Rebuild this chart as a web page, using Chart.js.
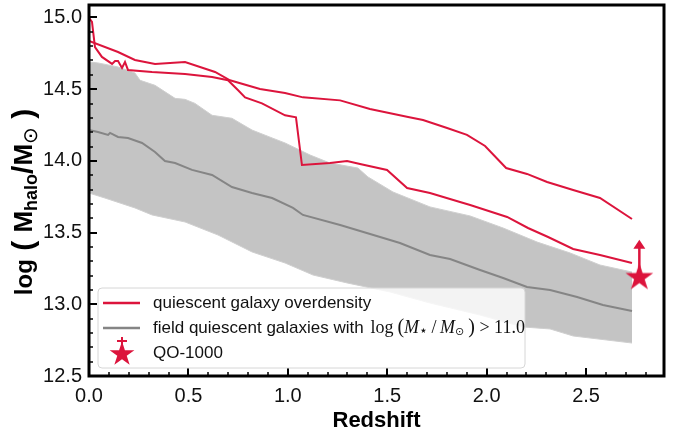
<!DOCTYPE html>
<html>
<head>
<meta charset="utf-8">
<script src="https://cdn.jsdelivr.net/npm/chart.js@4.4.0/dist/chart.umd.min.js"></script>
<style>
  html, body { margin: 0; padding: 0; background: #fff; }
</style>
</head>
<body>
<canvas id="myChart" width="685" height="434"></canvas>
<script>
// upper red track (overdensity)
const overUpX = [0.000, 0.146, 0.231, 0.332, 0.483, 0.634, 0.709, 0.860, 0.986, 1.076, 1.263, 1.413, 1.605, 1.680, 1.801, 1.901, 1.992, 2.098, 2.203, 2.304, 2.435, 2.570, 2.731];
const overUpY = [14.836, 14.759, 14.704, 14.676, 14.690, 14.620, 14.562, 14.501, 14.473, 14.443, 14.422, 14.362, 14.306, 14.285, 14.229, 14.181, 14.104, 13.950, 13.909, 13.853, 13.797, 13.741, 13.595];

// lower red track (overdensity)
const overLoX = [0.000, 0.015, 0.030, 0.065, 0.116, 0.131, 0.146, 0.166, 0.181, 0.196, 0.317, 0.483, 0.619, 0.699, 0.750, 0.785, 0.870, 0.986, 1.041, 1.071, 1.212, 1.298, 1.363, 1.499, 1.600, 1.715, 1.866, 1.917, 2.103, 2.208, 2.309, 2.435, 2.570, 2.731];
const overLoY = [14.997, 14.970, 14.794, 14.725, 14.676, 14.697, 14.697, 14.648, 14.690, 14.634, 14.620, 14.606, 14.585, 14.562, 14.492, 14.443, 14.401, 14.318, 14.304, 13.971, 13.985, 13.999, 13.978, 13.937, 13.811, 13.776, 13.713, 13.692, 13.609, 13.532, 13.469, 13.386, 13.344, 13.288];

// field quiescent galaxies: median
const fieldX = [0.000, 0.045, 0.096, 0.106, 0.146, 0.196, 0.267, 0.332, 0.382, 0.433, 0.518, 0.619, 0.719, 0.820, 0.921, 1.026, 1.076, 1.263, 1.464, 1.564, 1.715, 1.816, 1.967, 2.083, 2.203, 2.319, 2.455, 2.585, 2.731];
const fieldY = [14.215, 14.202, 14.181, 14.195, 14.167, 14.160, 14.125, 14.062, 13.999, 13.985, 13.937, 13.902, 13.818, 13.776, 13.741, 13.672, 13.623, 13.553, 13.469, 13.427, 13.344, 13.316, 13.239, 13.183, 13.121, 13.100, 13.051, 12.995, 12.953];

// field band, upper edge
const bandHiX = [0.000, 0.045, 0.146, 0.231, 0.257, 0.332, 0.433, 0.483, 0.533, 0.619, 0.719, 0.820, 0.921, 0.986, 1.112, 1.212, 1.353, 1.403, 1.529, 1.715, 1.917, 2.083, 2.254, 2.420, 2.570, 2.731];
const bandHiY = [14.690, 14.683, 14.655, 14.613, 14.562, 14.527, 14.436, 14.429, 14.401, 14.318, 14.297, 14.215, 14.160, 14.125, 14.041, 13.985, 13.950, 13.888, 13.783, 13.679, 13.616, 13.532, 13.434, 13.358, 13.274, 13.225];

// field band, lower edge
const bandLoX = [0.000, 0.080, 0.231, 0.317, 0.483, 0.649, 0.820, 0.986, 1.127, 1.298, 1.514, 1.715, 1.967, 2.183, 2.319, 2.435, 2.731];
const bandLoY = [13.776, 13.741, 13.672, 13.623, 13.574, 13.483, 13.365, 13.288, 13.204, 13.149, 13.086, 13.009, 12.925, 12.842, 12.828, 12.779, 12.730];

// QO-1000 lower limit
const starX = [2.768];
const starY = [13.197];
const arrowTopY = [13.45];

const xTicks = [0.0, 0.5, 1.0, 1.5, 2.0, 2.5];
const xMinor = [0.1, 0.2, 0.3, 0.4, 0.6, 0.7, 0.8, 0.9, 1.1, 1.2, 1.3, 1.4, 1.6, 1.7, 1.8, 1.9, 2.1, 2.2, 2.3, 2.4, 2.6, 2.7, 2.8];
const yTicks = [12.5, 13.0, 13.5, 14.0, 14.5, 15.0];
const yMinor = [12.6, 12.7, 12.8, 12.9, 13.1, 13.2, 13.3, 13.4, 13.6, 13.7, 13.8, 13.9, 14.1, 14.2, 14.3, 14.4, 14.6, 14.7, 14.8, 14.9];

const RED = 'crimson';
const GREY = '#858585';
const BAND = '#c4c4c4';

function pts(xs, ys) {
    return xs.map((x, i) => ({ x: x, y: ys[i] }));
}

function makeStar(R, color) {
    const c = document.createElement('canvas');
    const s = Math.ceil(R * 2 + 2);
    c.width = s; c.height = s;
    const g = c.getContext('2d');
    const r = R * 0.381966;
    g.beginPath();
    for (let i = 0; i < 10; i++) {
        const rad = i % 2 === 0 ? R : r;
        const a = -Math.PI / 2 + i * Math.PI / 5;
        const px = s / 2 + rad * Math.cos(a);
        const py = s / 2 + rad * Math.sin(a) + R * 0.1;
        if (i === 0) g.moveTo(px, py); else g.lineTo(px, py);
    }
    g.closePath();
    g.fillStyle = color;
    g.fill();
    return c;
}
const starImg = makeStar(14.5, RED);

// frame, inward ticks, arrow, legend and y title
const decor = {
    id: 'decor',
    afterDatasetsDraw(chart) {
        const ctx = chart.ctx;
        const xs = chart.scales.x, ys = chart.scales.y;
        // arrow for lower limit
        const ax = xs.getPixelForValue(starX[0]);
        const ay0 = ys.getPixelForValue(starY[0]);
        const ay1 = ys.getPixelForValue(arrowTopY[0]);
        ctx.save();
        ctx.strokeStyle = RED;
        ctx.fillStyle = RED;
        ctx.lineWidth = 2.5;
        ctx.beginPath();
        ctx.moveTo(ax, ay0);
        ctx.lineTo(ax, ay1 + 7);
        ctx.stroke();
        ctx.beginPath();
        ctx.moveTo(ax, ay1);
        ctx.lineTo(ax - 6, ay1 + 9);
        ctx.lineTo(ax + 6, ay1 + 9);
        ctx.closePath();
        ctx.fill();
        ctx.restore();
    },
    afterDraw(chart) {
        const ctx = chart.ctx;
        const a = chart.chartArea;
        const xs = chart.scales.x, ys = chart.scales.y;
        ctx.save();
        ctx.strokeStyle = '#000';
        // ticks
        ctx.lineWidth = 2;
        xTicks.forEach(v => {
            const p = Math.round(xs.getPixelForValue(v));
            ctx.beginPath(); ctx.moveTo(p, a.bottom); ctx.lineTo(p, a.bottom - 8); ctx.stroke();
        });
        yTicks.forEach(v => {
            const p = Math.round(ys.getPixelForValue(v));
            ctx.beginPath(); ctx.moveTo(a.left, p); ctx.lineTo(a.left + 8, p); ctx.stroke();
        });
        ctx.lineWidth = 1.5;
        xMinor.forEach(v => {
            const p = Math.round(xs.getPixelForValue(v));
            ctx.beginPath(); ctx.moveTo(p, a.bottom); ctx.lineTo(p, a.bottom - 4); ctx.stroke();
        });
        yMinor.forEach(v => {
            const p = Math.round(ys.getPixelForValue(v));
            ctx.beginPath(); ctx.moveTo(a.left, p); ctx.lineTo(a.left + 4, p); ctx.stroke();
        });
        // frame
        ctx.lineWidth = 3;
        ctx.strokeRect(a.left, a.top, a.right - a.left, a.bottom - a.top);
        ctx.restore();

        // legend
        const lx = a.left + 9, ly = a.bottom - 88, lw = 427, lh = 80;
        ctx.save();
        ctx.beginPath();
        ctx.roundRect(lx, ly, lw, lh, 4);
        ctx.fillStyle = 'rgba(255,255,255,0.8)';
        ctx.fill();
        ctx.strokeStyle = '#d6d6d6';
        ctx.lineWidth = 1;
        ctx.stroke();
        const rows = [ly + 15, ly + 40, ly + 65];
        ctx.lineWidth = 2.5;
        ctx.strokeStyle = RED;
        ctx.beginPath(); ctx.moveTo(lx + 5, rows[0]); ctx.lineTo(lx + 42, rows[0]); ctx.stroke();
        ctx.strokeStyle = GREY;
        ctx.beginPath(); ctx.moveTo(lx + 5, rows[1]); ctx.lineTo(lx + 42, rows[1]); ctx.stroke();
        const ls = makeStar(13, RED);
        ctx.drawImage(ls, lx + 24 - ls.width / 2, rows[2] - ls.height / 2);
        ctx.strokeStyle = RED;
        ctx.lineWidth = 2;
        ctx.beginPath(); ctx.moveTo(lx + 24, rows[2] - 6); ctx.lineTo(lx + 24, rows[2] - 16); ctx.stroke();
        ctx.beginPath(); ctx.moveTo(lx + 19, rows[2] - 12); ctx.lineTo(lx + 29, rows[2] - 12); ctx.stroke();

        ctx.fillStyle = '#111';
        ctx.textBaseline = 'middle';
        ctx.font = '17px "Liberation Sans"';
        const tx = lx + 55;
        ctx.fillText('quiescent galaxy overdensity', tx, rows[0]);
        ctx.fillText('QO-1000', tx, rows[2]);
        const head = 'field quiescent galaxies with ';
        ctx.fillText(head, tx, rows[1]);
        let cx = tx + ctx.measureText(head).width + 2;
        const math = [
            { t: 'log', f: '18px "Liberation Serif"', dy: 0 },
            { t: '\u2009(', f: '20px "Liberation Serif"', dy: 0 },
            { t: 'M', f: 'italic 18px "Liberation Serif"', dy: 0 },
            { t: '\u22c6', f: '14px "DejaVu Sans"', dy: 3 },
            { t: '\u2009/\u2009', f: '18px "Liberation Serif"', dy: 0 },
            { t: 'M', f: 'italic 18px "Liberation Serif"', dy: 0 },
            { t: '\u2299', f: '11px "DejaVu Sans"', dy: 4 },
            { t: '\u2009)', f: '20px "Liberation Serif"', dy: 0 },
            { t: ' > 11.0', f: '18px "Liberation Serif"', dy: 0 }
        ];
        math.forEach(m => {
            ctx.font = m.f;
            ctx.fillText(m.t, cx, rows[1] + m.dy);
            cx += ctx.measureText(m.t).width;
        });
        ctx.restore();

        // y axis title
        ctx.save();
        ctx.translate(32, 202);
        ctx.rotate(-Math.PI / 2);
        ctx.fillStyle = '#000';
        ctx.textBaseline = 'alphabetic';
        const parts = [
            { t: 'log', f: 'bold 24px "Liberation Sans"', dy: 0 },
            { t: ' ( ', f: 'bold 30px "Liberation Sans"', dy: 1 },
            { t: 'M', f: 'bold 26px "Liberation Sans"', dy: 0 },
            { t: 'halo', f: 'bold 18px "Liberation Sans"', dy: 5 },
            { t: '/', f: 'bold 30px "Liberation Sans"', dy: 1 },
            { t: 'M', f: 'bold 26px "Liberation Sans"', dy: 0 },
            { t: '\u2299', f: '20px "DejaVu Sans"', dy: 5 },
            { t: ' )', f: 'bold 30px "Liberation Sans"', dy: 1 }
        ];
        let total = 0;
        parts.forEach(p => { ctx.font = p.f; total += ctx.measureText(p.t).width; });
        let px = -total / 2;
        parts.forEach(p => {
            ctx.font = p.f;
            ctx.fillText(p.t, px, p.dy);
            px += ctx.measureText(p.t).width;
        });
        ctx.restore();
    }
};

const config = {
    type: 'line',
    data: {
        datasets: [
            {
                label: 'band high',
                data: pts(bandHiX, bandHiY),
                borderColor: '#cfcfcf',
                borderWidth: 1,
                backgroundColor: BAND,
                fill: '+1',
                pointRadius: 0,
                order: 6
            },
            {
                label: 'band low',
                data: pts(bandLoX, bandLoY),
                borderColor: '#cfcfcf',
                borderWidth: 1,
                fill: false,
                pointRadius: 0,
                order: 5
            },
            {
                label: 'field quiescent galaxies',
                data: pts(fieldX, fieldY),
                borderColor: GREY,
                borderWidth: 2,
                fill: false,
                pointRadius: 0,
                order: 4
            },
            {
                label: 'overdensity upper',
                data: pts(overUpX, overUpY),
                borderColor: RED,
                borderWidth: 2,
                fill: false,
                pointRadius: 0,
                order: 3
            },
            {
                label: 'overdensity lower',
                data: pts(overLoX, overLoY),
                borderColor: RED,
                borderWidth: 2,
                fill: false,
                pointRadius: 0,
                order: 2
            },
            {
                label: 'QO-1000',
                data: pts(starX, starY),
                showLine: false,
                pointStyle: starImg,
                pointRadius: 14,
                clip: false,
                order: 1
            }
        ]
    },
    options: {
        responsive: false,
        animation: false,
        devicePixelRatio: 1,
        layout: { autoPadding: false, padding: { top: 5, right: 21, left: 0, bottom: 0 } },
        plugins: {
            legend: { display: false },
            tooltip: { enabled: false }
        },
        scales: {
            x: {
                type: 'linear',
                min: 0,
                max: 2.892,
                afterBuildTicks: scale => { scale.ticks = xTicks.map(v => ({ value: v })); },
                afterFit: scale => {
                    scale.height = 58;
                    scale.paddingLeft = 0;
                    scale.paddingRight = 0;
                },
                grid: { display: false, drawTicks: false },
                border: { display: false },
                ticks: {
                    callback: v => v.toFixed(1),
                    font: { family: 'Liberation Sans', size: 20 },
                    color: '#111',
                    padding: 8,
                    maxRotation: 0
                },
                title: {
                    display: true,
                    text: 'Redshift',
                    font: { family: 'Liberation Sans', size: 22, weight: 'bold' },
                    color: '#000',
                    padding: { top: 0, bottom: 0 }
                }
            },
            y: {
                type: 'linear',
                min: 12.5,
                max: 15.087,
                afterBuildTicks: scale => { scale.ticks = yTicks.map(v => ({ value: v })); },
                afterFit: scale => {
                    scale.width = 89;
                    scale.paddingTop = 0;
                    scale.paddingBottom = 0;
                },
                grid: { display: false, drawTicks: false },
                border: { display: false },
                ticks: {
                    callback: v => v.toFixed(1),
                    font: { family: 'Liberation Sans', size: 20 },
                    color: '#111',
                    padding: 7
                }
            }
        }
    },
    plugins: [decor]
};

const chart = new Chart(document.getElementById('myChart'), config);
</script>
</body>
</html>
